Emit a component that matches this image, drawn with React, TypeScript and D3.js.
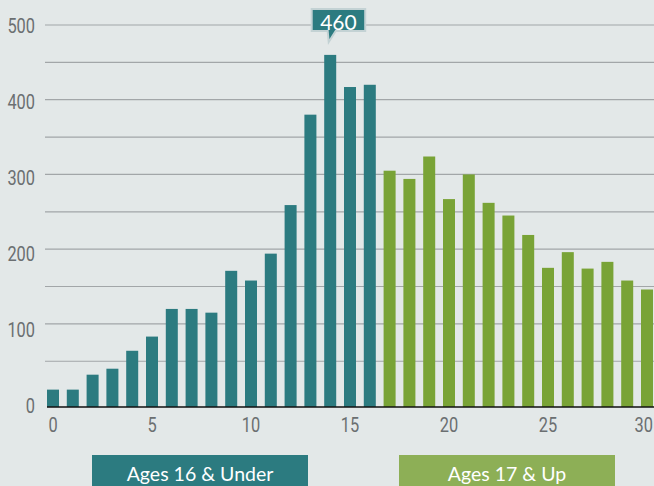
import React, { useEffect, useRef } from "react";
import * as d3 from "d3";

// ages 0..30, count of players per age
const ages = d3.range(0, 31);
const counts = [12, 12, 32, 40, 64, 83, 120, 120, 115, 171, 158, 194, 259, 380, 460, 417, 420,
  305, 294, 324, 267, 300, 262, 245, 219, 175, 196, 174, 183, 158, 146];
const yTickValues = [0, 100, 200, 300, 400, 500];
const gridValues = [50, 100, 150, 200, 250, 300, 350, 400, 450, 500];
const xTickValues = [0, 5, 10, 15, 20, 25, 30];
const groups = [
  { label: "Ages 16 & Under", from: 0, to: 16 },
  { label: "Ages 17 & Up", from: 17, to: 30 },
];
const highlightAge = 14;

const TEAL = "#2c7b80";
const GREEN = "#79a336";
const LEGEND_GREEN = "#8daf56";
const GREY_TEXT = "#6b6f71";

export default function App() {
  const ref = useRef<SVGSVGElement>(null);

  useEffect(() => {
    const width = 654;
    const height = 486;
    const svg = d3.select(ref.current);
    svg.selectAll("*").remove();

    svg.append("rect").attr("width", width).attr("height", height).attr("fill", "#e3e8e8");

    // x: age, y: count (axis line sits a bit below zero)
    const x = d3.scaleLinear().domain([0, 30]).range([53, 647]);
    const y = d3.scaleLinear().domain([-11.25, 500]).range([407, 25]);
    // tick labels are spaced a little differently from the grid lines
    const yLabel = d3.scaleLinear().domain([0, 500]).range([405.8, 25.8]);
    const barW = 12;

    // grid lines
    svg.append("g")
      .selectAll("line")
      .data(gridValues)
      .join("line")
      .attr("x1", 45)
      .attr("x2", width)
      .attr("y1", (d) => y(d))
      .attr("y2", (d) => y(d))
      .attr("stroke", "#a2a6a8")
      .attr("stroke-width", 1.2);

    // y labels
    svg.append("g")
      .selectAll("text")
      .data(yTickValues)
      .join("text")
      .attr("transform", (d) => `translate(35,${yLabel(d)}) scale(0.78,1)`)
      .attr("dy", "0.36em")
      .attr("text-anchor", "end")
      .style("font-family", "Roboto, sans-serif")
      .style("font-size", "21px")
      .attr("fill", GREY_TEXT)
      .text((d) => d);

    // bars
    svg.append("g")
      .selectAll("rect")
      .data(ages)
      .join("rect")
      .attr("x", (d) => x(d) - barW / 2)
      .attr("width", barW)
      .attr("y", (d) => y(counts[d]))
      .attr("height", (d) => y(-11.25) - y(counts[d]))
      .attr("fill", (d) => (d <= groups[0].to ? TEAL : GREEN));

    // x axis line
    svg.append("line")
      .attr("x1", x(0) - barW / 2)
      .attr("x2", width)
      .attr("y1", y(-11.25))
      .attr("y2", y(-11.25))
      .attr("stroke", "#111")
      .attr("stroke-width", 1.5);

    // x labels, last one pulled in so it stays on the page
    const lastTick = xTickValues[xTickValues.length - 1];
    svg.append("g")
      .selectAll("text")
      .data(xTickValues)
      .join("text")
      .attr("transform", (d) => `translate(${d === lastTick ? width - 1 : x(d)},432) scale(0.78,1)`)
      .attr("text-anchor", (d) => (d === lastTick ? "end" : "middle"))
      .style("font-family", "Roboto, sans-serif")
      .style("font-size", "21px")
      .attr("fill", GREY_TEXT)
      .text((d) => d);

    // callout over the peak
    const cx = x(highlightAge);
    const bx0 = cx - 18.5, bx1 = cx + 35, by0 = 9, by1 = 31;
    const callout = svg.append("g");
    callout.append("path")
      .attr("d", `M${bx0},${by0} H${bx1} V${by1} H${cx + 5.5} L${cx - 1.5},${42} L${cx - 2.5},${by1} H${bx0} Z`)
      .attr("fill", TEAL)
      .attr("stroke", "#c3d2d4")
      .attr("stroke-width", 2);
    callout.append("text")
      .attr("x", (bx0 + bx1) / 2)
      .attr("y", 29.5)
      .attr("text-anchor", "middle")
      .style("font-family", "Lato, sans-serif")
      .style("font-size", "21px")
      .attr("fill", "#fff")
      .text(counts[highlightAge]);

    // group legend boxes under the axis
    const legend = svg.append("g")
      .selectAll("g")
      .data(groups)
      .join("g");
    const boxX = [92, 399];
    legend.append("rect")
      .attr("x", (d, i) => boxX[i])
      .attr("y", 455)
      .attr("width", 216)
      .attr("height", 40)
      .attr("fill", (d, i) => (i === 0 ? TEAL : LEGEND_GREEN));
    legend.append("text")
      .attr("x", (d, i) => boxX[i] + 108)
      .attr("y", 481)
      .attr("text-anchor", "middle")
      .style("font-family", "Lato, sans-serif")
      .style("font-size", "19.5px")
      .attr("fill", "#fff")
      .text((d) => d.label);
  }, []);

  return (
    <svg
      ref={ref}
      width={654}
      height={486}
      style={{ position: "absolute", left: 0, top: 0, display: "block" }}
    />
  );
}
